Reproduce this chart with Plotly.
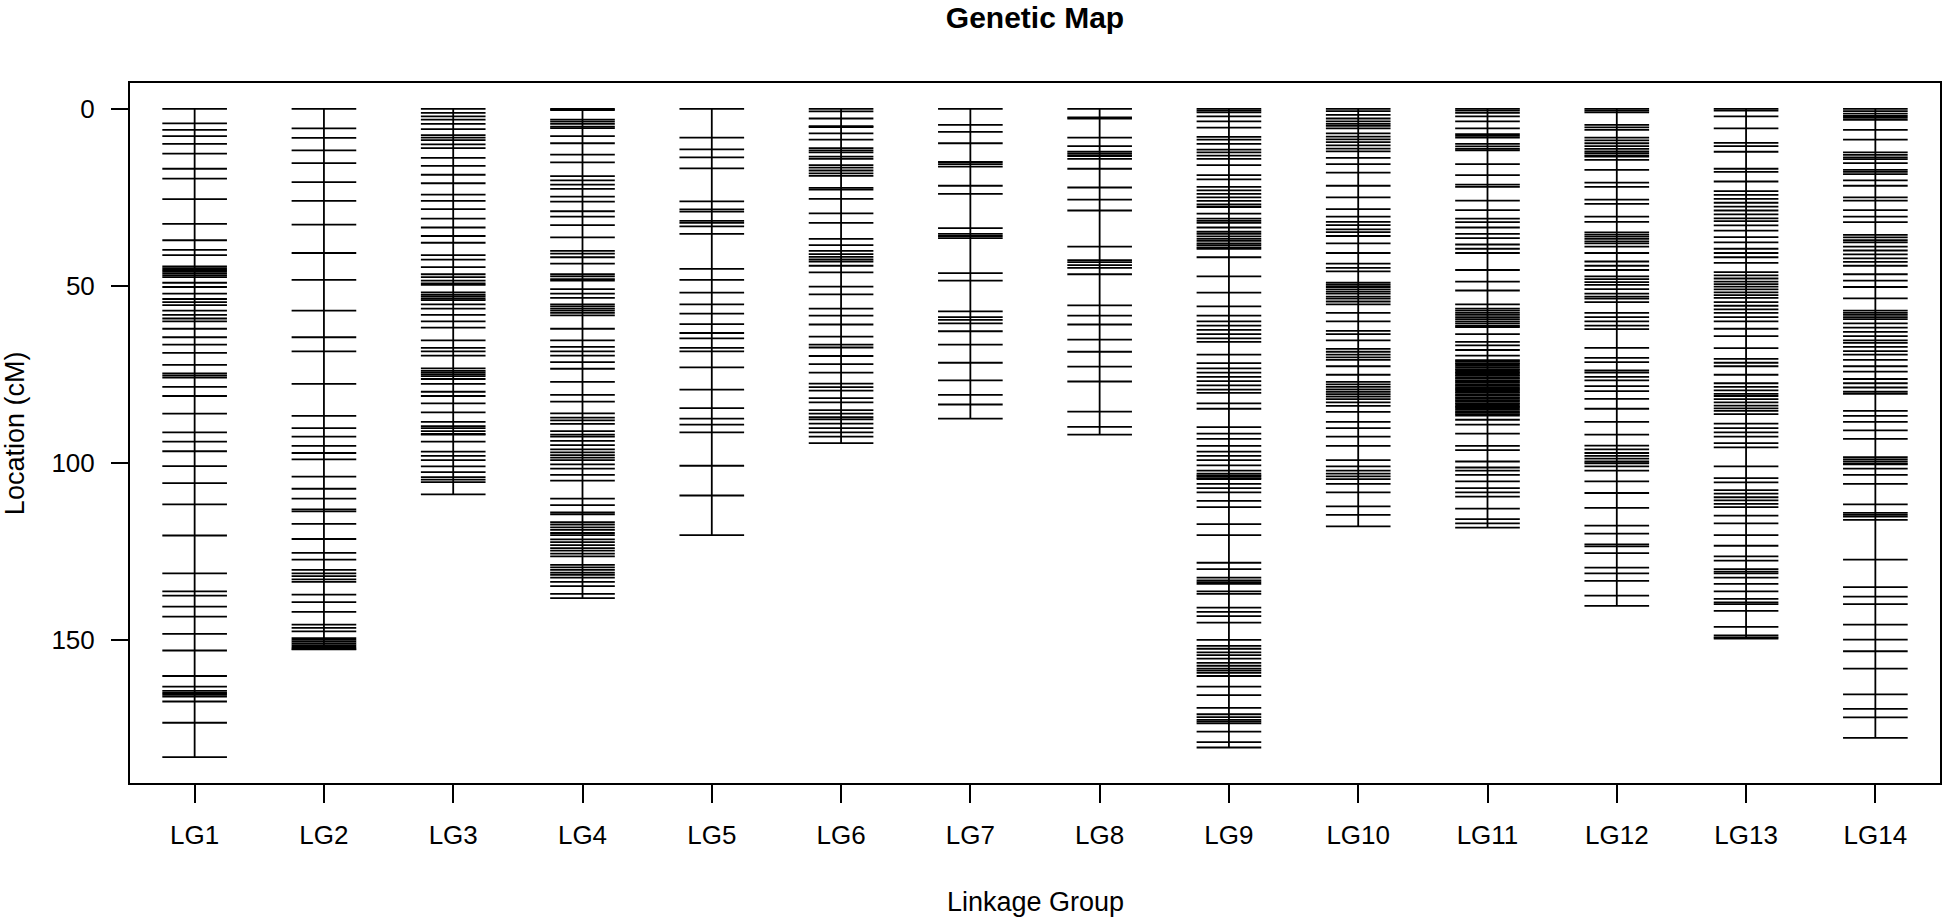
import plotly.graph_objects as go

groups = ["LG1", "LG2", "LG3", "LG4", "LG5", "LG6", "LG7", "LG8", "LG9", "LG10", "LG11", "LG12", "LG13", "LG14"]

lg1 = [0, 4.1, 5.9, 7.7, 9.9, 12.6, 16.9, 19.7, 25.5, 32.5, 37.1, 39.8, 41.3, 44.5, 45.0, 45.5, 46.0, 46.5, 47.0,
       47.5, 49.1, 50.3, 52.2, 53.7, 54.6, 55.4, 57.0, 58.2, 59.2, 60.0, 62.1, 64.5, 66.6, 68.9, 72.3, 74.7, 75.3,
       75.9, 78.5, 81.1, 86.1, 91.4, 94.0, 96.7, 100.9, 105.7, 111.7, 120.5, 131.2, 136.3, 137.5, 140.6, 143.4,
       148.3, 153.0, 160.2, 163.2, 164.4, 165.0, 165.5, 166.0, 167.4, 173.4, 183.1]
lg2 = [0, 5.5, 8.2, 11.7, 15.3, 20.7, 26.0, 32.7, 40.7, 48.3, 57.0, 64.5, 68.5, 77.7, 86.7, 90.2, 92.6, 95.2, 97.2,
       99.0, 103.9, 107.3, 110.1, 113.1, 113.7, 117.2, 121.5, 125.4, 127.3, 130.2, 131.2, 132.0, 132.9, 133.6, 137.2,
       139.3, 142.1, 145.7, 146.6, 147.6, 149.5, 150.0, 150.5, 151.0, 151.5, 152.0, 152.5, 152.7]
lg3 = [0, 1.1, 2.1, 3.0, 4.2, 5.7, 7.4, 8.1, 8.8, 10.0, 11.1, 13.8, 16.1, 18.6, 21.0, 24.2, 26.0, 28.3, 31.0, 33.5,
       35.9, 37.8, 41.3, 42.6, 44.7, 46.7, 47.5, 48.5, 49.3, 49.7, 51.8, 52.5, 53.0, 53.6, 54.0, 55.2, 56.4, 58.2,
       60.0, 61.8, 65.4, 67.5, 68.5, 69.7, 73.3, 74.0, 74.5, 75.0, 75.5, 76.3, 77.7, 79.9, 81.1, 83.2, 85.7, 88.4,
       89.6, 90.2, 91.0, 91.8, 92.0, 94.0, 96.8, 98.0, 99.2, 101.0, 102.6, 104.0, 104.7, 105.4, 108.9]
lg4 = [0, 0.3, 3.0, 3.6, 4.2, 5.0, 5.4, 7.7, 9.7, 12.9, 15.1, 19.0, 20.2, 21.4, 22.6, 24.8, 26.2, 28.9, 30.4, 32.8,
       36.3, 40.1, 40.9, 41.9, 43.7, 46.7, 47.3, 48.1, 48.5, 50.9, 52.2, 53.4, 55.2, 55.8, 56.4, 57.0, 57.6, 58.3,
       62.1, 65.4, 67.2, 68.5, 69.7, 71.5, 73.4, 77.1, 80.8, 82.7, 86.0, 87.2, 88.0, 89.0, 91.0, 92.0, 92.6, 93.8,
       95.0, 96.2, 97.0, 97.8, 98.5, 99.2, 100.4, 101.6, 103.4, 105.0, 110.1, 111.9, 114.0, 114.5, 116.7, 117.4,
       118.2, 118.9, 119.8, 120.4, 121.6, 122.4, 123.2, 124.1, 124.8, 125.6, 126.4, 128.8, 129.5, 130.2, 131.0,
       131.6, 132.4, 133.6, 134.8, 137.0, 138.2]
lg5 = [0, 8.1, 11.4, 13.7, 16.8, 26.1, 28.4, 29.0, 31.6, 32.2, 33.2, 35.3, 45.2, 48.3, 51.9, 55.2, 57.8, 60.8, 63.3,
       64.8, 67.5, 68.5, 73.0, 79.3, 84.5, 87.5, 89.2, 91.4, 100.8, 109.2, 120.4]
lg6 = [0, 0.7, 2.7, 4.9, 5.1, 6.9, 8.7, 11.1, 11.7, 12.3, 13.5, 14.1, 15.9, 16.6, 17.4, 18.2, 18.9, 22.3, 22.8,
       25.4, 29.5, 32.2, 36.7, 38.5, 40.1, 41.0, 41.8, 42.5, 43.1, 44.3, 46.2, 50.2, 52.4, 56.4, 58.4, 60.9, 64.3,
       66.6, 67.4, 69.8, 72.1, 74.5, 77.6, 78.6, 79.6, 81.7, 82.9, 85.1, 86.1, 87.1, 87.7, 88.9, 90.2, 91.4, 92.6,
       94.4]
lg7 = [0, 4.5, 6.5, 9.7, 15.0, 15.6, 16.3, 21.7, 24.0, 33.7, 35.3, 35.9, 36.5, 46.4, 48.5, 57.2, 58.8, 59.6, 60.6,
       62.8, 66.6, 71.7, 76.7, 80.8, 83.5, 87.5]
lg8 = [0, 2.4, 2.7, 8.1, 10.5, 12.1, 12.7, 13.3, 14.1, 16.9, 22.2, 25.6, 28.7, 38.9, 42.7, 43.3, 44.1, 44.9, 46.7,
       55.5, 58.4, 60.9, 65.2, 68.6, 72.8, 77.0, 85.5, 89.8, 92.0]
lg9 = [0, 0.5, 1.0, 2.1, 3.5, 5.3, 7.9, 8.7, 9.9, 11.5, 12.3, 13.2, 14.1, 15.9, 18.7, 19.9, 22.0, 23.0, 24.0, 25.0,
       26.0, 27.0, 27.7, 29.6, 31.0, 31.6, 32.2, 33.5, 34.7, 35.3, 36.0, 36.7, 37.3, 38.0, 38.5, 39.1, 39.5, 41.9,
       47.3, 51.9, 55.8, 58.4, 60.0, 61.2, 62.4, 63.6, 64.8, 65.8, 69.4, 71.8, 73.3, 74.5, 75.7, 76.9, 78.1, 79.3,
       80.2, 83.2, 84.7, 89.9, 91.7, 93.2, 95.2, 96.8, 98.0, 99.2, 100.7, 102.2, 103.0, 103.5, 103.8, 104.3, 104.6,
       105.9, 107.1, 108.3, 110.7, 112.5, 117.3, 120.4, 128.2, 130.0, 132.4, 133.2, 133.7, 134.2, 136.3, 137.0,
       140.9, 142.1, 143.3, 145.1, 150.0, 151.7, 152.5, 153.5, 154.3, 155.3, 156.5, 157.3, 158.1, 158.7, 159.3,
       160.2, 163.2, 165.6, 169.2, 171.0, 171.8, 172.6, 173.1, 173.6, 175.9, 178.9, 180.4]
lg10 = [0, 0.6, 1.7, 2.7, 3.5, 4.2, 4.8, 5.5, 6.9, 7.8, 8.6, 9.4, 10.3, 11.2, 12.0, 13.8, 15.6, 18.0, 21.7, 25.0,
        28.3, 30.4, 31.9, 32.8, 34.0, 34.8, 35.9, 38.0, 40.7, 43.7, 44.9, 45.9, 49.1, 49.7, 50.3, 51.0, 51.6, 52.2,
        53.0, 53.6, 54.4, 55.2, 57.6, 60.0, 62.7, 63.6, 65.4, 67.8, 68.6, 69.4, 70.2, 70.9, 72.7, 75.1, 77.1, 77.8,
        78.5, 79.2, 79.9, 80.6, 81.3, 82.0, 82.9, 83.9, 85.6, 88.4, 90.2, 92.6, 95.2, 99.2, 101.0, 102.2, 103.0,
        103.8, 104.6, 105.9, 108.3, 112.3, 114.7, 117.9]
lg11 = [0, 0.5, 1.1, 2.1, 3.5, 5.5, 7.1, 7.6, 8.1, 9.9, 10.6, 11.3, 11.7, 15.6, 18.7, 21.4, 22.0, 25.9, 28.6, 31.0,
        32.0, 33.5, 35.3, 36.5, 38.3, 39.5, 40.7, 45.5, 48.8, 51.3, 55.2, 56.4, 57.0, 57.6, 58.2, 58.8, 59.4, 60.0,
        60.6, 61.2, 61.6, 63.6, 65.8, 66.8, 68.1, 69.7, 71.0, 71.3, 71.8, 72.1, 72.6, 73.0, 73.5, 73.8, 74.3, 74.6,
        75.1, 75.4, 75.9, 76.2, 76.7, 77.0, 77.4, 77.9, 78.2, 78.7, 79.0, 79.4, 79.9, 80.2, 80.7, 81.0, 81.5, 81.8,
        82.3, 82.6, 83.1, 83.4, 83.9, 84.2, 84.6, 85.0, 85.5, 85.8, 86.2, 86.6, 87.8, 89.2, 91.7, 95.2, 96.4, 99.6,
        101.3, 102.2, 103.4, 105.2, 107.1, 108.3, 109.5, 112.9, 115.9, 117.1, 118.3]
lg12 = [0, 0.5, 1.0, 4.5, 5.2, 5.9, 8.1, 8.9, 9.7, 10.5, 11.3, 12.0, 12.5, 13.1, 13.5, 14.4, 17.2, 20.8, 22.0, 25.6,
        26.8, 30.4, 31.9, 34.9, 35.5, 36.1, 36.7, 37.4, 38.0, 38.9, 40.7, 43.1, 44.3, 45.5, 47.3, 48.1, 48.9, 49.7,
        50.9, 52.2, 53.0, 53.6, 54.6, 57.6, 58.8, 60.0, 61.2, 62.2, 67.5, 70.3, 71.5, 73.9, 74.5, 75.7, 76.7, 78.3,
        79.7, 81.9, 84.7, 88.4, 92.0, 95.1, 96.2, 97.2, 98.0, 98.8, 99.6, 100.1, 101.0, 102.2, 105.2, 108.5, 112.7,
        117.7, 120.0, 123.0, 123.6, 125.5, 129.6, 131.2, 133.3, 137.5, 140.4]
lg13 = [0, 0.5, 2.1, 5.5, 9.6, 10.5, 12.1, 16.9, 17.8, 20.5, 23.2, 24.3, 25.4, 26.5, 27.6, 28.7, 29.8, 30.9, 31.7,
        32.9, 34.4, 36.2, 37.7, 39.5, 40.7, 41.9, 43.5, 46.1, 47.0, 47.9, 48.8, 49.5, 50.2, 51.0, 51.8, 52.6, 53.4,
        54.6, 55.6, 56.6, 57.6, 58.8, 60.0, 62.1, 64.2, 67.6, 70.6, 71.7, 72.7, 75.1, 77.5, 78.5, 79.5, 80.5, 81.1,
        82.0, 82.9, 83.8, 84.6, 85.3, 86.2, 88.9, 90.2, 91.4, 92.6, 94.4, 95.6, 101.0, 104.3, 105.5, 107.7, 108.7,
        109.7, 110.6, 111.6, 112.5, 114.9, 117.1, 120.4, 123.4, 126.4, 127.6, 130.0, 130.7, 131.2, 132.4, 134.2,
        136.3, 138.4, 139.4, 139.9, 141.8, 146.3, 148.7, 149.3, 149.6]
lg14 = [0, 0.6, 1.3, 2.0, 2.5, 3.1, 5.9, 8.7, 12.3, 13.0, 13.7, 14.2, 15.3, 17.2, 17.8, 18.4, 20.2, 21.7, 25.0, 25.9,
        28.6, 30.4, 32.0, 35.6, 36.3, 37.1, 37.7, 38.9, 40.0, 41.1, 42.2, 43.2, 44.3, 46.7, 48.5, 50.3, 53.5, 57.0,
        57.6, 58.2, 58.8, 59.4, 60.6, 61.8, 63.0, 64.2, 65.4, 66.1, 67.2, 68.4, 69.4, 70.9, 72.7, 74.2, 76.3, 77.5,
        78.7, 79.9, 80.5, 85.3, 86.7, 88.4, 90.8, 93.2, 98.4, 99.0, 99.6, 100.2, 100.4, 101.6, 103.4, 105.9, 111.7,
        114.1, 114.7, 115.2, 116.1, 127.3, 135.1, 137.8, 139.9, 145.7, 149.9, 153.2, 158.1, 165.4, 169.5, 171.9,
        177.7]

positions = [lg1, lg2, lg3, lg4, lg5, lg6, lg7, lg8, lg9, lg10, lg11, lg12, lg13, lg14]

HALF = 0.25
LW = 1.8
FONT = "Liberation Sans, Arial, Helvetica, sans-serif"

fig = go.Figure()
for i, (name, pos) in enumerate(zip(groups, positions)):
    xc = i + 1
    xs, ys = [xc, xc, None], [min(pos), max(pos), None]
    for p in pos:
        xs += [xc - HALF, xc + HALF, None]
        ys += [p, p, None]
    fig.add_trace(go.Scatter(x=xs, y=ys, mode="lines", line=dict(color="black", width=LW),
                             hoverinfo="skip", showlegend=False, name=name))

ymax = max(max(p) for p in positions)
pad = 0.04 * ymax

fig.update_layout(
    width=1946, height=920,
    paper_bgcolor="white", plot_bgcolor="white",
    margin=dict(l=130, r=4, t=83, b=137),
    font=dict(family=FONT, size=26, color="black"),
    title=dict(text="<b>Genetic Map</b>", x=0.5, xref="paper", xanchor="center",
               y=1 - 17 / 920, yref="container", yanchor="middle",
               font=dict(family=FONT, size=30, color="black")),
    xaxis=dict(range=[0.5, len(groups) + 0.5], tickmode="array",
               tickvals=list(range(1, len(groups) + 1)), ticktext=groups,
               showgrid=False, zeroline=False, showline=True, mirror=True,
               linecolor="black", linewidth=2, ticks="outside", ticklen=18,
               tickwidth=2, tickcolor="black", ticklabelstandoff=10),
    yaxis=dict(range=[ymax + pad, -pad], tickvals=[0, 50, 100, 150],
               showgrid=False, zeroline=False, showline=True, mirror=True,
               linecolor="black", linewidth=2, ticks="outside", ticklen=17,
               tickwidth=2, tickcolor="black", ticklabelstandoff=11),
    annotations=[
        dict(text="Linkage Group", x=0.5, xref="paper", y=-119 / 700, yref="paper",
             xanchor="center", yanchor="middle", showarrow=False, font=dict(size=27)),
        dict(text="Location (cM)", x=(15 - 130) / 1812, xref="paper", y=0.5, yref="paper",
             xanchor="center", yanchor="middle", textangle=-90, showarrow=False, font=dict(size=27)),
    ],
)

fig.write_html("out.html", config={"displayModeBar": False},
               post_script="document.body.style.margin='0';document.body.style.overflow='hidden';")
